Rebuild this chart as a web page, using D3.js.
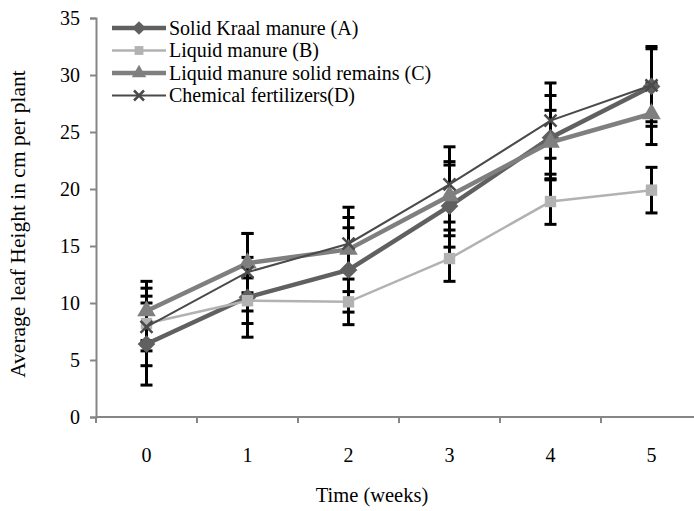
<!DOCTYPE html>
<html>
<head>
<meta charset="utf-8">
<script src="https://cdn.jsdelivr.net/npm/d3@7"></script>
<style>
  body { margin: 0; background: #fff; }
  text { font-family: "Liberation Serif", "DejaVu Serif", serif; fill: #000; }
</style>
</head>
<body>
<div id="chart"></div>
<script>
const weeks = [0, 1, 2, 3, 4, 5];
const yTicks = [0, 5, 10, 15, 20, 25, 30, 35];

const seriesNames = [
  "Solid Kraal manure (A)",
  "Liquid manure (B)",
  "Liquid manure solid remains (C)",
  "Chemical fertilizers(D)"
];
const kraalA = [6.4, 10.5, 12.9, 18.5, 24.5, 29.0];
const liquidB = [8.2, 10.2, 10.1, 13.9, 18.9, 19.9];
const remainsC = [9.3, 13.5, 14.7, 19.4, 24.1, 26.6];
const chemD = [7.9, 12.7, 15.2, 20.4, 26.0, 29.1];

const errA = [3.6, 3.5, 3.7, 3.6, 3.7, 3.5];
const errB = [2.4, 2.0, 2.0, 2.0, 2.0, 2.0];
const errC = [2.6, 2.6, 3.7, 3.0, 2.8, 2.7];
const errD = [3.4, 3.4, 2.3, 3.3, 3.3, 3.2];

const W = 694, H = 511;
const svg = d3.select("#chart").append("svg").attr("width", W).attr("height", H);

const x = d3.scaleBand().domain(weeks).range([96, 702]);
const y = d3.scaleLinear().domain([0, 35]).range([417, 18]);
const axisColor = "#868686";

// axes
const yAxis = svg.append("g").attr("transform", "translate(96,0)")
  .call(d3.axisLeft(y).tickValues(yTicks).tickSize(6).tickPadding(10));
const xAxis = svg.append("g").attr("transform", "translate(0,417)")
  .call(d3.axisBottom(x).tickSize(0).tickPadding(31));
[yAxis, xAxis].forEach(g => {
  g.select(".domain").attr("stroke", axisColor).attr("stroke-width", 2);
  g.selectAll(".tick line").attr("stroke", axisColor).attr("stroke-width", 2);
  g.selectAll("text").style("font-size", "20px").style("font-family", "'Liberation Serif', serif").attr("fill", "#000");
});
xAxis.select(".domain").attr("d", `M96,0H${W}`);
// category separator ticks
xAxis.selectAll(".sep").data(weeks).enter().append("line")
  .attr("x1", d => x(d)).attr("x2", d => x(d))
  .attr("y1", 0).attr("y2", 6)
  .attr("stroke", axisColor).attr("stroke-width", 2);

svg.append("text")
  .attr("transform", "translate(25,224) rotate(-90)")
  .attr("text-anchor", "middle")
  .style("font-size", "21.5px")
  .text("Average leaf Height in cm per plant");
svg.append("text")
  .attr("x", 372).attr("y", 502)
  .attr("text-anchor", "middle")
  .style("font-size", "20.5px")
  .text("Time (weeks)");

const series = [
  { name: seriesNames[0], values: kraalA, err: errA, color: "#606060", width: 4.5, marker: "diamond", size: 150 },
  { name: seriesNames[1], values: liquidB, err: errB, color: "#b2b2b2", width: 2.5, marker: "square", size: 130 },
  { name: seriesNames[2], values: remainsC, err: errC, color: "#7f7f7f", width: 4.5, marker: "triangle", size: 150 },
  { name: seriesNames[3], values: chemD, err: errD, color: "#4a4a4a", width: 2, marker: "cross", size: 12 }
];

const cx = d => x(d) + x.bandwidth() / 2;

// error bars
series.forEach(s => {
  const g = svg.append("g");
  weeks.forEach((w, i) => {
    const top = y(s.values[i] + s.err[i]);
    const bot = y(s.values[i] - s.err[i]);
    const xc = cx(w);
    g.append("line").attr("x1", xc).attr("x2", xc).attr("y1", top).attr("y2", bot)
      .attr("stroke", "#000").attr("stroke-width", 3);
    [top, bot].forEach(v => g.append("line")
      .attr("x1", xc - 6).attr("x2", xc + 6).attr("y1", v).attr("y2", v)
      .attr("stroke", "#000").attr("stroke-width", 3));
  });
});

function drawMarker(g, s, px, py) {
  if (s.marker === "cross") {
    const r = s.size / 2;
    g.append("path")
      .attr("d", `M${px - r},${py - r}L${px + r},${py + r}M${px - r},${py + r}L${px + r},${py - r}`)
      .attr("stroke", s.color).attr("stroke-width", 2.5);
  } else {
    const type = s.marker === "diamond" ? d3.symbolDiamond2 : s.marker === "square" ? d3.symbolSquare : d3.symbolTriangle;
    const sizeArea = s.marker === "diamond" ? s.size * 1.33 : s.size;
    g.append("path")
      .attr("d", d3.symbol().type(type).size(sizeArea)())
      .attr("transform", `translate(${px},${py})`)
      .attr("fill", s.color);
  }
}

const line = d3.line().x((d, i) => cx(weeks[i])).y(d => y(d));
series.forEach(s => {
  const g = svg.append("g");
  g.append("path").datum(s.values).attr("d", line)
    .attr("fill", "none").attr("stroke", s.color).attr("stroke-width", s.width);
  s.values.forEach((v, i) => drawMarker(g, s, cx(weeks[i]), y(v)));
});

// legend
const legend = svg.append("g");
series.forEach((s, i) => {
  const ly = 28 + i * 22.5;
  legend.append("line").attr("x1", 112).attr("x2", 166).attr("y1", ly).attr("y2", ly)
    .attr("stroke", s.color).attr("stroke-width", s.width);
  drawMarker(legend, Object.assign({}, s, { size: s.marker === "cross" ? 10 : s.size * 0.6 }), 139, ly);
  legend.append("text").attr("x", 169).attr("y", ly + 6.5)
    .style("font-size", "20px").text(s.name);
});
</script>
</body>
</html>
